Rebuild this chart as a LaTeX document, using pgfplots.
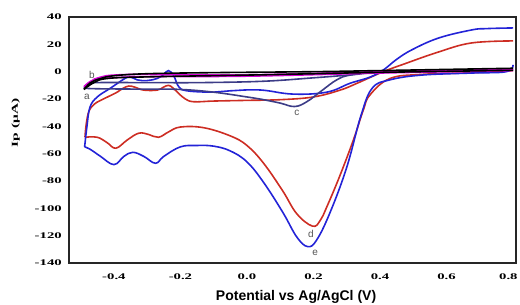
\documentclass[border=0pt]{standalone}
\usepackage{pgfplots}
\pgfplotsset{compat=1.18}
\usepackage{fontspec}
\setmainfont{Liberation Serif}
\newfontfamily\tickfont[FakeStretch=1.7]{Liberation Serif}
\newfontfamily\labfont{Liberation Sans}
\definecolor{cblue}{RGB}{35,35,215}
\definecolor{cred}{RGB}{205,45,35}
\definecolor{cnavy}{RGB}{60,60,135}
\definecolor{cmag}{RGB}{215,0,215}
\definecolor{cgray}{RGB}{85,85,85}
\begin{document}
\begin{tikzpicture}
\begin{axis}[
  scale only axis,
  width=335.25pt, height=184.5pt,
  xmin=-0.535, xmax=0.809, ymin=-140, ymax=40,
  xtick={-0.4,-0.2,0,0.2,0.4,0.6,0.8},
  xticklabels={-0.4,-0.2,0.0,0.2,0.4,0.6,\kern-7pt 0.8},
  ytick={-140,-120,-100,-80,-60,-40,-20,0,20,40},
  major tick length=0pt,
  axis line style={line width=1.1pt, black!85},
  /pgf/number format/assume math mode=true,
  xticklabel style={anchor=center, yshift=-10.5pt},
  yticklabel style={anchor=east, inner sep=0pt, xshift=-5.25pt},
  ticklabel style={font=\tickfont\bfseries\fontsize{6.5}{7}\selectfont},
  every axis plot/.append style={line width=1.2pt, smooth, tension=0.65},
  clip=true,
]
% d (red)
\addplot[cred] coordinates {
(-0.487,-48) (-0.45,-48) (-0.42,-52) (-0.394,-56) (-0.36,-50) (-0.325,-45) (-0.295,-46) (-0.266,-48)
(-0.235,-44) (-0.2,-40.5) (-0.13,-41) (-0.05,-47) (0.0,-54) (0.05,-67) (0.107,-87) (0.15,-104)
(0.197,-113) (0.22,-109) (0.24,-99) (0.278,-77) (0.32,-50) (0.35,-28) (0.37,-17) (0.43,-5)
(0.525,-2) (0.675,-0.8) (0.78,0.5) (0.8,1)
};
\addplot[cred] coordinates {
(0.8,22.5) (0.675,21) (0.576,14.4) (0.477,6) (0.41,0) (0.33,-8.6) (0.28,-13.5) (0.2,-18.5)
(0.1,-20.5) (0,-21) (-0.1,-21.5) (-0.16,-22) (-0.185,-20) (-0.205,-16) (-0.222,-12) (-0.236,-10)
(-0.252,-11.5) (-0.27,-13.5) (-0.31,-13.5) (-0.335,-11.5) (-0.355,-10.5) (-0.375,-12.5) (-0.394,-15.5)
(-0.44,-21) (-0.46,-24) (-0.475,-29) (-0.483,-38) (-0.487,-48)
};
% e (blue)
\addplot[cblue] coordinates {
(-0.488,-55) (-0.47,-57) (-0.44,-62) (-0.40,-68) (-0.37,-62) (-0.343,-59) (-0.31,-62) (-0.275,-67)
(-0.25,-62) (-0.2,-55) (-0.15,-54) (-0.1,-54.5) (-0.05,-58) (0.0,-66) (0.05,-81) (0.108,-103)
(0.15,-121) (0.183,-128) (0.21,-123) (0.25,-103) (0.30,-70) (0.343,-32) (0.377,-12) (0.43,-6)
(0.525,-2.5) (0.675,-1) (0.78,0) (0.8,5)
};
\addplot[cblue] coordinates {
(0.8,32) (0.72,31.5) (0.675,30.5) (0.576,24.6) (0.496,16) (0.45,9) (0.41,1.2) (0.37,-4)
(0.31,-8.5) (0.24,-15) (0.138,-16.4) (0.04,-13.4) (-0.05,-14) (-0.1,-15) (-0.18,-14) (-0.205,-11)
(-0.22,-3) (-0.236,0.8) (-0.25,-2) (-0.27,-5) (-0.3,-6.5) (-0.33,-6) (-0.35,-3.8) (-0.367,-5)
(-0.41,-12) (-0.45,-18.5) (-0.472,-26) (-0.481,-40) (-0.488,-55)
};
% c (navy)
\addplot[cnavy] coordinates {
(-0.49,-12) (-0.45,-12.5) (-0.3,-12.8) (-0.2,-13) (-0.1,-15) (0,-18.5) (0.05,-20.5) (0.1,-23)
(0.143,-25.5) (0.18,-22) (0.227,-13.5) (0.27,-6) (0.31,-2.5) (0.4,0) (0.6,0.8) (0.8,1.5)
};
\addplot[cnavy] coordinates {
(-0.49,-12) (-0.47,-9) (-0.45,-8) (-0.3,-8) (-0.14,-8) (0.05,-7) (0.2,-4.5) (0.31,-2.4)
(0.4,-0.5) (0.6,0.6) (0.8,1.5)
};
% b (magenta)
\addplot[cmag] coordinates {
(-0.49,-11) (-0.47,-7) (-0.44,-4) (-0.4,-2.5) (-0.3,-2) (0,-2.3) (0.4,0) (0.8,2)
};
\addplot[cmag] coordinates {
(-0.49,-11) (-0.46,-6) (-0.44,-5) (-0.3,-3.6) (0,-3.3) (0.4,-1) (0.8,0.8)
};
% a (black)
\addplot[black] coordinates {
(-0.49,-13) (-0.47,-8) (-0.44,-5) (-0.4,-3) (-0.3,-1.5) (-0.1,-0.7) (0.2,0) (0.4,0.8) (0.8,2.5)
};
\addplot[black] coordinates {
(-0.49,-13) (-0.46,-8) (-0.42,-5) (-0.3,-3.8) (0,-2.5) (0.2,-1.5) (0.4,-0.5) (0.8,1)
};
\node[font=\labfont\fontsize{7.5}{8}\selectfont, text=cgray] at (axis cs:-0.466,-2.4) {b};
\node[font=\labfont\fontsize{7.5}{8}\selectfont, text=cgray] at (axis cs:-0.481,-18.5) {a};
\node[font=\labfont\fontsize{7.5}{8}\selectfont, text=cgray] at (axis cs:0.150,-30.2) {c};
\node[font=\labfont\fontsize{7.5}{8}\selectfont, text=cgray] at (axis cs:0.192,-118.7) {d};
\node[font=\labfont\fontsize{7.5}{8}\selectfont, text=cgray] at (axis cs:0.205,-132.6) {e};
\coordinate (sw) at (rel axis cs:0,0);
\coordinate (ne) at (rel axis cs:1,1);
\coordinate (yl) at (rel axis cs:0,0.57);
\coordinate (xl) at (rel axis cs:0.508,0);
\end{axis}
\node[rotate=90, font=\tickfont\bfseries\fontsize{6.8}{7}\selectfont] at ([xshift=-40pt]yl) {Ip (μA)};
\node[font=\labfont\bfseries\fontsize{10.5}{12}\selectfont] at ([yshift=-25.5pt]xl) {Potential vs Ag/AgCl (V)};
\pgfresetboundingbox
\path ([shift={(-51.75pt,-30.75pt)}]sw) rectangle ([shift={(3pt,12.75pt)}]ne);
\end{tikzpicture}
\end{document}
